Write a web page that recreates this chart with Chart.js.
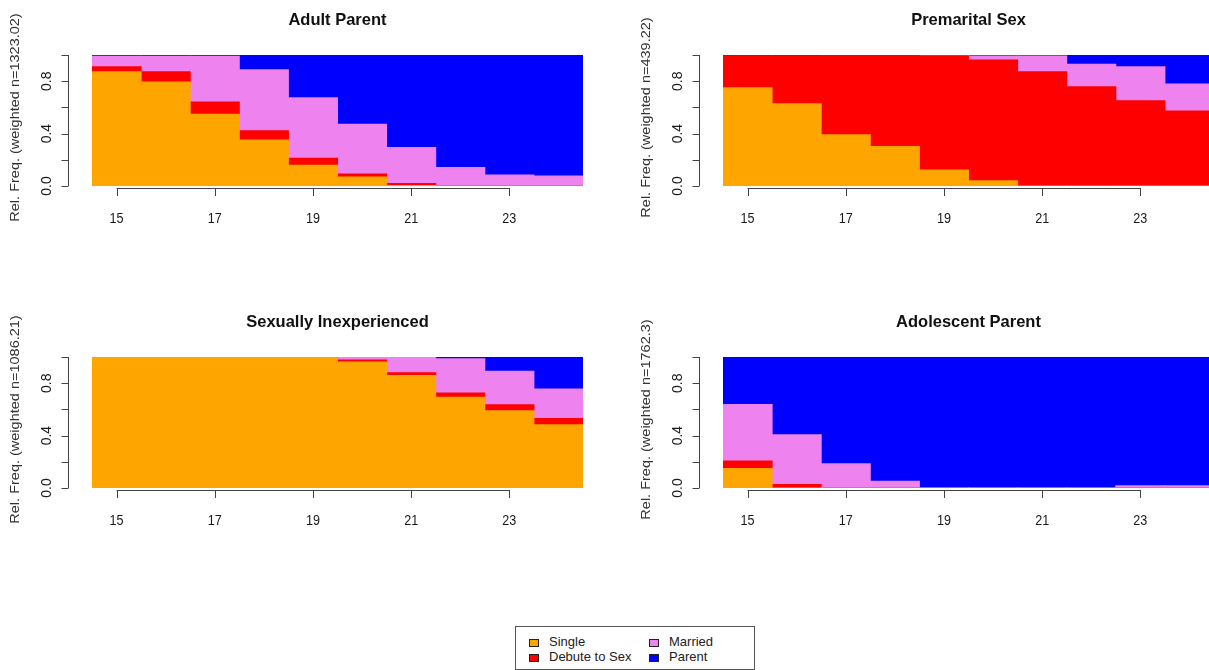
<!DOCTYPE html>
<html>
<head>
<meta charset="utf-8">
<script src="https://cdn.jsdelivr.net/npm/chart.js@4.4.1/dist/chart.umd.min.js"></script>
<style>
  html, body { margin: 0; padding: 0; background: #fff; overflow: hidden; width: 1209px; height: 670px; }
  .panel { position: absolute; width: 604px; height: 300px; }
  .legend { position: absolute; left: 515px; top: 626px; width: 240px; height: 44px; border: 1px solid #555; box-sizing: border-box;
            font-family: "Liberation Sans", Arial, sans-serif; font-size: 13px; color: #222; }
  .item { position: absolute; line-height: 14px; }
  .sw { position: absolute; width: 8px; height: 6px; border: 1px solid #222; }
</style>
</head>
<body>
<div class="panel" style="left:0;top:0"><canvas id="c1"></canvas></div>
<div class="panel" style="left:631px;top:0"><canvas id="c2"></canvas></div>
<div class="panel" style="left:0;top:302px"><canvas id="c3"></canvas></div>
<div class="panel" style="left:631px;top:302px"><canvas id="c4"></canvas></div>
<div class="legend" id="legend"></div>
<script>
// Ages (one bar per year of age)
const ages = ['15', '16', '17', '18', '19', '20', '21', '22', '23', '24'];
const ageTicks = ['15', '17', '19', '21', '23'];
const yTicks = [0, 0.2, 0.4, 0.6, 0.8, 1.0];
const yLabelTicks = [0, 0.4, 0.8];

const states = ['Single', 'Debute to Sex', 'Married', 'Parent'];
const stateColors = ['#FFA500', '#FF0000', '#EE82EE', '#0000FF'];

// Cluster: Adult Parent (weighted n=1323.02)
const adultSingle  = [0.873, 0.794, 0.547, 0.351, 0.158, 0.069, 0.003, 0, 0, 0];
const adultDebute  = [0.038, 0.079, 0.094, 0.071, 0.053, 0.023, 0.017, 0, 0, 0];
const adultMarried = [0.079, 0.117, 0.349, 0.466, 0.463, 0.379, 0.273, 0.142, 0.084, 0.076];
const adultParent  = [0.010, 0.010, 0.010, 0.112, 0.326, 0.529, 0.707, 0.858, 0.916, 0.924];

// Cluster: Premarital Sex (weighted n=439.22)
const premSingle  = [0.750, 0.627, 0.391, 0.302, 0.123, 0.041, 0, 0, 0, 0];
const premDebute  = [0.240, 0.363, 0.609, 0.698, 0.865, 0.921, 0.872, 0.758, 0.651, 0.573];
const premMarried = [0, 0, 0, 0, 0.004, 0.030, 0.120, 0.172, 0.260, 0.206];
const premParent  = [0.010, 0.010, 0, 0, 0.008, 0.008, 0.008, 0.070, 0.089, 0.221];

// Cluster: Sexually Inexperienced (weighted n=1086.21)
const inexpSingle  = [1, 1, 1, 1, 1, 0.962, 0.859, 0.692, 0.590, 0.482];
const inexpDebute  = [0, 0, 0, 0, 0, 0.015, 0.020, 0.034, 0.046, 0.049];
const inexpMarried = [0, 0, 0, 0, 0, 0.023, 0.121, 0.261, 0.256, 0.225];
const inexpParent  = [0, 0, 0, 0, 0, 0, 0, 0.013, 0.108, 0.244];

// Cluster: Adolescent Parent (weighted n=1762.3)
const adolSingle  = [0.149, 0, 0, 0, 0, 0, 0, 0, 0, 0];
const adolDebute  = [0.057, 0.026, 0, 0, 0, 0, 0, 0, 0, 0];
const adolMarried = [0.431, 0.381, 0.186, 0.052, 0, 0, 0, 0, 0.018, 0.018];
const adolParent  = [0.363, 0.593, 0.814, 0.948, 1, 1, 1, 1, 0.982, 0.982];

const panels = [
  { id: 'c1', title: 'Adult Parent', ylab: 'Rel. Freq. (weighted n=1323.02)',
    series: [adultSingle, adultDebute, adultMarried, adultParent] },
  { id: 'c2', title: 'Premarital Sex', ylab: 'Rel. Freq. (weighted n=439.22)',
    series: [premSingle, premDebute, premMarried, premParent] },
  { id: 'c3', title: 'Sexually Inexperienced', ylab: 'Rel. Freq. (weighted n=1086.21)',
    series: [inexpSingle, inexpDebute, inexpMarried, inexpParent] },
  { id: 'c4', title: 'Adolescent Parent', ylab: 'Rel. Freq. (weighted n=1762.3)',
    series: [adolSingle, adolDebute, adolMarried, adolParent] }
];

const FONT = '"Liberation Sans", Arial, sans-serif';
const INK = '#1a1a1a';
const AXIS = '#444';

// Base-graphics style axes: detached from the bars, spanning first to last tick
const rAxes = {
  id: 'rAxes',
  afterDraw(chart, args, opts) {
    const ctx = chart.ctx;
    const a = chart.chartArea;
    const xs = chart.scales.x, ys = chart.scales.y;
    ctx.save();
    ctx.strokeStyle = AXIS;
    ctx.lineWidth = 1;
    ctx.fillStyle = INK;

    // y axis
    const ax = a.left - 24;
    ctx.beginPath();
    ctx.moveTo(ax + 0.5, ys.getPixelForValue(0));
    ctx.lineTo(ax + 0.5, ys.getPixelForValue(1));
    yTicks.forEach(v => {
      const py = Math.round(ys.getPixelForValue(v)) + 0.5;
      ctx.moveTo(ax + 0.5, py);
      ctx.lineTo(ax - 6.5, py);
    });
    ctx.stroke();
    ctx.font = '14px ' + FONT;
    ctx.textAlign = 'center';
    ctx.textBaseline = 'middle';
    yLabelTicks.forEach(v => {
      ctx.save();
      ctx.translate(ax - 21, ys.getPixelForValue(v));
      ctx.rotate(-Math.PI / 2);
      ctx.fillText(v.toFixed(1), 0, 0);
      ctx.restore();
    });

    // x axis
    const ay = a.bottom + 2;
    const first = xs.getPixelForValue(ages.indexOf(ageTicks[0]));
    const last = xs.getPixelForValue(ages.indexOf(ageTicks[ageTicks.length - 1]));
    ctx.beginPath();
    ctx.moveTo(first, ay + 0.5);
    ctx.lineTo(last, ay + 0.5);
    ageTicks.forEach(t => {
      const px = Math.round(xs.getPixelForValue(ages.indexOf(t))) + 0.5;
      ctx.moveTo(px, ay);
      ctx.lineTo(px, ay + 8);
    });
    ctx.stroke();
    ageTicks.forEach(t => {
      // slightly narrow digits, as in the printed figure
      ctx.save();
      ctx.translate(xs.getPixelForValue(ages.indexOf(t)), a.bottom + 33);
      ctx.scale(0.9, 1);
      ctx.fillText(t, 0, 0);
      ctx.restore();
    });

    // main title
    ctx.font = 'bold 16.5px ' + FONT;
    ctx.fillStyle = '#111';
    ctx.fillText(opts.title, (a.left + a.right) / 2, a.top - 35);

    // y axis title
    ctx.font = '14.5px ' + FONT;
    ctx.fillStyle = '#333';
    ctx.save();
    ctx.translate(a.left - 77, (a.top + a.bottom) / 2 - 3);
    ctx.rotate(-Math.PI / 2);
    ctx.scale(1, 0.92);
    ctx.fillText(opts.ylab, 0, 0);
    ctx.restore();
    ctx.restore();
  }
};

panels.forEach(p => {
  new Chart(document.getElementById(p.id), {
    type: 'bar',
    data: {
      labels: ages,
      datasets: states.map((s, i) => ({
        label: s,
        data: p.series[i],
        backgroundColor: stateColors[i],
        borderWidth: 0,
        barPercentage: 1,
        categoryPercentage: 1,
        inflateAmount: 0.5
      }))
    },
    options: {
      responsive: true,
      maintainAspectRatio: false,
      animation: false,
      events: [],
      layout: { padding: { left: 92, right: 21, top: 55, bottom: 114 } },
      scales: {
        x: { stacked: true, display: false },
        y: { stacked: true, display: false, min: 0, max: 1 }
      },
      plugins: {
        legend: { display: false },
        tooltip: { enabled: false },
        rAxes: { title: p.title, ylab: p.ylab }
      }
    },
    plugins: [rAxes]
  });
});

// Legend box (two columns, filled swatches)
const legend = document.getElementById('legend');
const legendPos = [[13, 9], [13, 24], [133, 9], [133, 24]];
states.forEach((s, i) => {
  const sw = document.createElement('div');
  sw.className = 'sw';
  sw.style.left = legendPos[i][0] + 'px';
  sw.style.top = (legendPos[i][1] + 3) + 'px';
  sw.style.background = stateColors[i];
  legend.appendChild(sw);
  const t = document.createElement('div');
  t.className = 'item';
  t.style.left = (legendPos[i][0] + 20) + 'px';
  t.style.top = (legendPos[i][1] - 1) + 'px';
  t.textContent = s;
  legend.appendChild(t);
});
</script>
</body>
</html>
